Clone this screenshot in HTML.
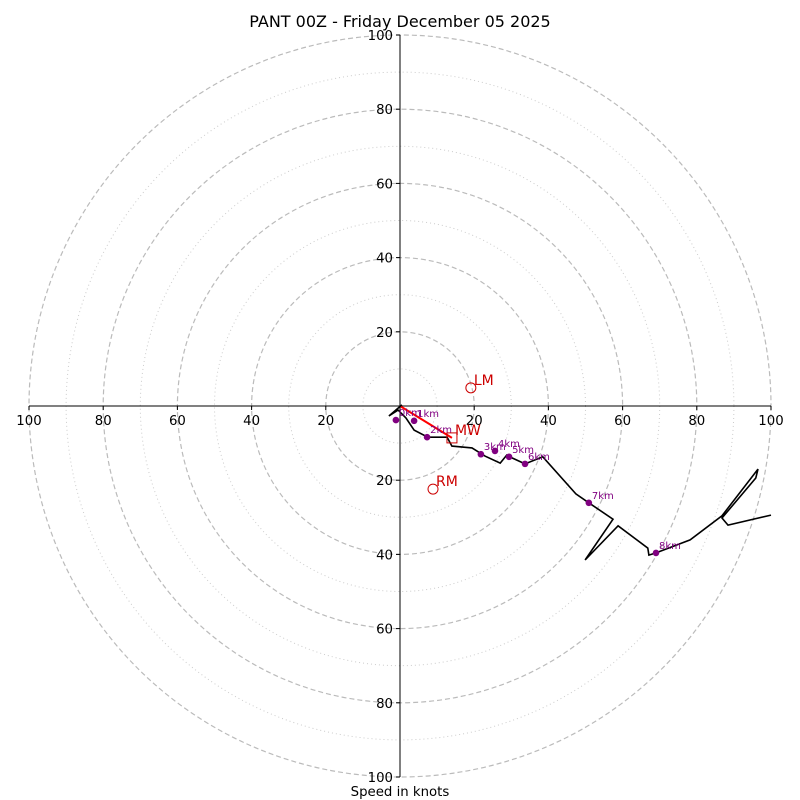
<!DOCTYPE html>
<html><head><meta charset="utf-8"><style>
body{margin:0;background:#fff}
svg{display:block;font-family:"DejaVu Sans","Liberation Sans",sans-serif}
</style></head><body>
<svg id="c" width="800" height="800" xmlns="http://www.w3.org/2000/svg">
<rect width="800" height="800" fill="#fff"/>
<text x="400" y="27" text-anchor="middle" font-size="16">PANT 00Z - Friday December 05 2025</text>
<text x="400" y="796" text-anchor="middle" font-size="13.3">Speed in knots</text>
<g id="grid"></g><g id="axes"></g><g id="plot"></g>
</svg>
<script>
const pathU=[0.5,-3.0,-0.5,1.6,3.8,7.5,12.7,14.0,19.4,22.9,27.0,28.8,30.2,33.7,38.5,47.4,50.9,57.4,49.9,58.8,66.8,67.1,69.0,78.2,86.8,96.5,95.9,86.8,88.4,100];
const pathV=[0.3,-2.7,-1.1,-3.2,-6.5,-8.4,-8.4,-10.8,-11.3,-13.5,-15.4,-13.2,-14.0,-15.6,-13.7,-23.7,-26.1,-30.5,-41.5,-32.3,-38.3,-40.2,-39.6,-36.1,-29.6,-17.0,-19.4,-30.2,-32.1,-29.4];
const markerLabels=["0km","1km","2km","3km","4km","5km","6km","7km","8km"];
const markerU=[-1.1,3.8,7.3,21.8,25.6,29.4,33.7,50.9,69.0];
const markerV=[-3.8,-4.0,-8.4,-13.0,-12.1,-13.7,-15.6,-26.1,-39.6];
const tickValues=[20,40,60,80,100];
const motionNames=["LM","RM","MW"];
const motionU=[19.1,8.9,14.0];
const motionV=[4.9,-22.4,-8.6];

const CX=400,CY=406,K=3.71;
const sx=u=>CX+u*K, sy=v=>CY-v*K;
const NS="http://www.w3.org/2000/svg";
function mk(tag,attrs,parent,txt){const e=document.createElementNS(NS,tag);for(const k in attrs)e.setAttribute(k,attrs[k]);if(txt!==undefined)e.textContent=txt;parent.appendChild(e);return e;}
const grid=document.getElementById('grid'),axes=document.getElementById('axes'),plot=document.getElementById('plot');
for(let r=10;r<=100;r+=10){
  const c=mk('circle',{cx:CX,cy:CY,r:r*K,fill:'none',stroke:r%20===0?'#bbb':'#ccc','stroke-width':r%20===0?1.2:1,'stroke-dasharray':r%20===0?'5,3':'1,3'},grid);
  
  
}
const xa=mk('line',{x1:sx(-100),y1:CY,x2:sx(100),y2:CY,stroke:'#000','stroke-width':1},axes);


const ya=mk('line',{x1:CX,y1:sy(100),x2:CX,y2:sy(-100),stroke:'#000','stroke-width':1},axes);


tickValues.forEach(t=>{
  [t,-t].forEach(s=>{
    mk('line',{x1:sx(s),y1:CY,x2:sx(s),y2:CY+4,stroke:'#000'},axes);
    const tx=mk('text',{x:sx(s),y:CY+19,'text-anchor':'middle','font-size':13.3},axes,String(t));
    
    
    mk('line',{x1:CX-4,y1:sy(s),x2:CX,y2:sy(s),stroke:'#000'},axes);
    const ty=mk('text',{x:CX-7,y:sy(s)+5,'text-anchor':'end','font-size':13.3},axes,String(t));
    
    
  });
});
const mw=mk('line',{x1:CX,y1:CY,x2:sx(motionU[2]),y2:sy(motionV[2]),stroke:'red','stroke-width':2},plot);


const pts=pathU.map((u,i)=>sx(u).toFixed(1)+','+sy(pathV[i]).toFixed(1)).join(' ');
const pl=mk('polyline',{points:pts,fill:'none',stroke:'#000','stroke-width':1.6,'stroke-linejoin':'miter'},plot);


markerU.forEach((u,i)=>{
  const c=mk('circle',{cx:sx(u),cy:sy(markerV[i]),r:3.3,fill:'purple'},plot);
  
  
  const t=mk('text',{x:sx(u)+3,y:sy(markerV[i])-4,'font-size':10,fill:'purple'},plot,markerLabels[i]);
  
  
});
motionNames.forEach((n,i)=>{
  const x=sx(motionU[i]),y=sy(motionV[i]);
  let m;
  if(n==='MW') m=mk('rect',{x:x-5,y:y-5,width:10,height:10,fill:'none',stroke:'#c00'},plot);
  else m=mk('circle',{cx:x,cy:y,r:5,fill:'none',stroke:'#c00'},plot);
  
  
  const t=mk('text',{x:x+3,y:y-3,'font-size':14,fill:'#c00'},plot,n);
  
  
});
</script>
</body></html>
